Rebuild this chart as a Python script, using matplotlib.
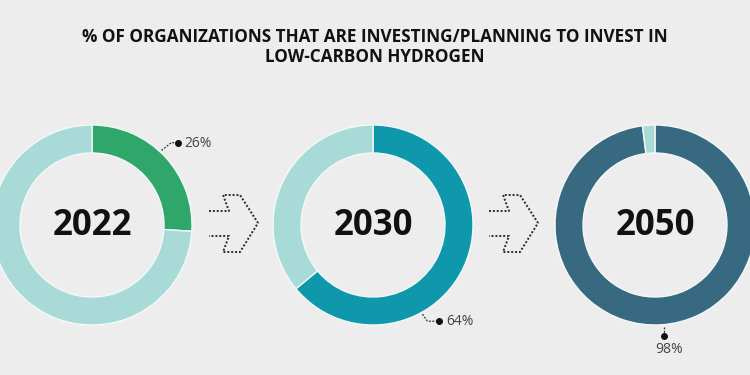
import numpy as np
import matplotlib.pyplot as plt

# data
years = ["2022", "2030", "2050"]
shares = [26, 64, 98]
main_colors = ["#2fa66a", "#0f97ab", "#376a80"]
rest_color = "#a8dad7"
title = "% OF ORGANIZATIONS THAT ARE INVESTING/PLANNING TO INVEST IN\nLOW-CARBON HYDROGEN"

BG = "#ededed"
W, H = 750, 375


def Y(y):
    # pixel row (from top) -> data y
    return H - y


fig = plt.figure(figsize=(7.5, 3.75), dpi=100)
fig.patch.set_facecolor(BG)
ax = fig.add_axes([0, 0, 1, 1])
ax.set_facecolor(BG)

centers_x = [92, 373, 655]
cy = 225
radius = 100
ring = 28

for i in range(len(years)):
    ax.pie([shares[i], 100 - shares[i]], colors=[main_colors[i], rest_color],
           center=(centers_x[i], Y(cy)), radius=radius, startangle=90,
           counterclock=False,
           wedgeprops=dict(width=ring, edgecolor="#f4f9f8", linewidth=1.0))
    ax.text(centers_x[i], Y(cy + 1), years[i], ha="center", va="center",
            fontsize=25, fontweight="bold", family="Open Sans", color="#111111")

# leader lines + labels: (start angle clockwise from top, path offsets)
leader_angles = [43, 151, 175]
leader_paths = [[(10, -8), (16, -7)], [(5, 7), (17, 7)], [(0, 9)]]
for i in range(len(years)):
    a = np.deg2rad(leader_angles[i])
    sx = centers_x[i] + (radius + 2) * np.sin(a)
    sy = cy - (radius + 2) * np.cos(a)
    pts = [(sx, sy)] + [(sx + dx, sy + dy) for dx, dy in leader_paths[i]]
    xs = [p[0] for p in pts]
    ys = [Y(p[1]) for p in pts]
    ax.plot(xs, ys, color="#333333", lw=0.9, ls=(0, (1.5, 1.2)))
    ax.plot(xs[-1], ys[-1], "o", color="#111111", ms=4)
    label = f"{shares[i]}%"
    if i < 2:
        ax.text(xs[-1] + 7, ys[-1] - 0.5, label, ha="left", va="center",
                fontsize=10, family="Open Sans", color="#444444")
    else:
        ax.text(xs[-1] + 5, ys[-1] - 14, label, ha="center", va="center",
                fontsize=10, family="Open Sans", color="#444444")

# dotted arrows between donuts
arrow_shape = [(0, 0), (20, 0), (14, -16), (31, -16), (49, 12), (31, 41),
               (14, 41), (20, 25), (0, 25)]
for x0 in [209, 489]:
    xs = [x0 + p[0] for p in arrow_shape]
    ys = [Y(211 + p[1]) for p in arrow_shape]
    ax.plot(xs, ys, color="#2a2a2a", lw=1.4, ls=(0, (1.0, 1.0)))

ax.text(W / 2, Y(47), title, ha="center", va="center", fontsize=12.3,
        fontweight="bold", family="Open Sans", color="#111111", linespacing=1.2)

ax.set_xlim(0, W)
ax.set_ylim(0, H)
ax.set_aspect("auto")
ax.axis("off")

fig.savefig("out.png", dpi=100, facecolor=BG)
